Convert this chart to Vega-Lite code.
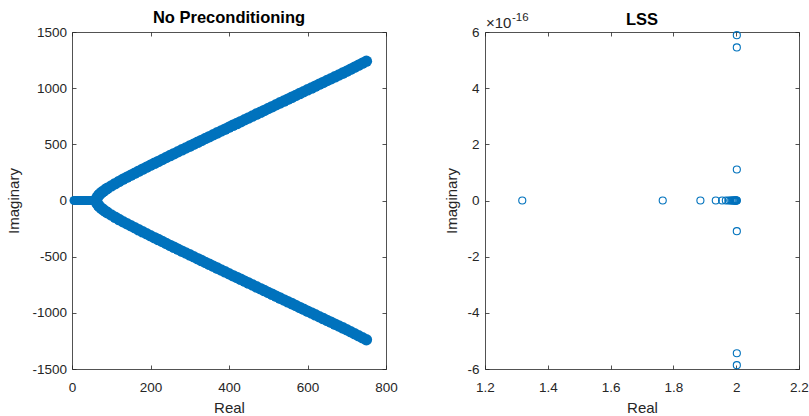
{
  "$schema": "https://vega.github.io/schema/vega-lite/v6.json",
  "autosize": {"type": "pad"},
  "padding": {"left": 6, "top": 10, "right": 5, "bottom": 1},
  "background": "white",
  "spacing": 99,
  "bounds": "flush",
  "config": {
    "view": {"stroke": null},
    "axis": {
      "domainColor": "#262626", "tickColor": "#262626", "labelColor": "#262626", "titleColor": "#262626",
      "labelFont": "Liberation Sans", "titleFont": "Liberation Sans", "labelFontSize": 13.5, "titleFontSize": 15,
      "titleFontWeight": "normal", "tickSize": -4, "grid": false, "domainWidth": 0.8, "tickWidth": 0.8,
      "labelFlush": false, "labelOverlap": false
    },
    "axisX": {"labelPadding": 15, "titlePadding": 7},
    "title": {"font": "Liberation Sans", "fontSize": 16.5, "fontWeight": "bold", "color": "#000000"}
  },
  "datasets": {
    "axisPts": [
      {"re": 5, "im": 0}, {"re": 9, "im": 0}, {"re": 13, "im": 0}, {"re": 17, "im": 0}, {"re": 21, "im": 0},
      {"re": 25, "im": 0}, {"re": 29, "im": 0}, {"re": 33, "im": 0}, {"re": 37, "im": 0}, {"re": 41, "im": 0},
      {"re": 45, "im": 0}, {"re": 49, "im": 0}, {"re": 53, "im": 0}, {"re": 57, "im": 0}, {"re": 61, "im": 0}
    ],
    "branch": [
      {"re": 62, "up": 0, "dn": 0}, {"re": 64, "up": 26, "dn": -26}, {"re": 67, "up": 42, "dn": -42},
      {"re": 70, "up": 54, "dn": -54}, {"re": 75, "up": 70, "dn": -70}, {"re": 80, "up": 83, "dn": -83},
      {"re": 85, "up": 96, "dn": -96}, {"re": 90, "up": 108, "dn": -108}, {"re": 100, "up": 129, "dn": -129},
      {"re": 110, "up": 150, "dn": -150}, {"re": 120, "up": 170, "dn": -170}, {"re": 130, "up": 189, "dn": -189},
      {"re": 140, "up": 207, "dn": -207}, {"re": 150, "up": 225, "dn": -225}, {"re": 160, "up": 243, "dn": -243},
      {"re": 170, "up": 261, "dn": -261}, {"re": 180, "up": 279, "dn": -279}, {"re": 190, "up": 296, "dn": -296},
      {"re": 200, "up": 314, "dn": -314}, {"re": 210, "up": 331, "dn": -331}, {"re": 220, "up": 348, "dn": -348},
      {"re": 230, "up": 365, "dn": -365}, {"re": 240, "up": 383, "dn": -383}, {"re": 250, "up": 400, "dn": -400},
      {"re": 260, "up": 417, "dn": -417}, {"re": 270, "up": 434, "dn": -434}, {"re": 280, "up": 451, "dn": -451},
      {"re": 290, "up": 467, "dn": -467}, {"re": 300, "up": 484, "dn": -484}, {"re": 310, "up": 501, "dn": -501},
      {"re": 320, "up": 518, "dn": -518}, {"re": 330, "up": 535, "dn": -535}, {"re": 340, "up": 552, "dn": -552},
      {"re": 350, "up": 568, "dn": -568}, {"re": 360, "up": 585, "dn": -585}, {"re": 370, "up": 602, "dn": -602},
      {"re": 380, "up": 619, "dn": -619}, {"re": 390, "up": 635, "dn": -635}, {"re": 400, "up": 652, "dn": -652},
      {"re": 410, "up": 669, "dn": -669}, {"re": 420, "up": 685, "dn": -685}, {"re": 430, "up": 702, "dn": -702},
      {"re": 440, "up": 719, "dn": -719}, {"re": 450, "up": 735, "dn": -735}, {"re": 460, "up": 752, "dn": -752},
      {"re": 470, "up": 769, "dn": -769}, {"re": 480, "up": 785, "dn": -785}, {"re": 490, "up": 802, "dn": -802},
      {"re": 500, "up": 819, "dn": -819}, {"re": 510, "up": 835, "dn": -835}, {"re": 520, "up": 852, "dn": -852},
      {"re": 530, "up": 869, "dn": -869}, {"re": 540, "up": 885, "dn": -885}, {"re": 550, "up": 902, "dn": -902},
      {"re": 560, "up": 918, "dn": -918}, {"re": 570, "up": 935, "dn": -935}, {"re": 580, "up": 952, "dn": -952},
      {"re": 590, "up": 968, "dn": -968}, {"re": 600, "up": 985, "dn": -985}, {"re": 610, "up": 1001, "dn": -1001},
      {"re": 620, "up": 1018, "dn": -1018}, {"re": 630, "up": 1035, "dn": -1035}, {"re": 640, "up": 1051, "dn": -1051},
      {"re": 650, "up": 1068, "dn": -1068}, {"re": 660, "up": 1084, "dn": -1084}, {"re": 670, "up": 1101, "dn": -1101},
      {"re": 680, "up": 1117, "dn": -1117}, {"re": 690, "up": 1134, "dn": -1134}, {"re": 700, "up": 1151, "dn": -1151},
      {"re": 710, "up": 1168, "dn": -1168}, {"re": 720, "up": 1186, "dn": -1186}, {"re": 730, "up": 1204, "dn": -1204},
      {"re": 740, "up": 1222, "dn": -1222}, {"re": 750, "up": 1240, "dn": -1240}
    ],
    "lss": [
      {"re": 1.3187, "im": 0}, {"re": 1.766, "im": 0}, {"re": 1.886, "im": 0}, {"re": 1.935, "im": 0},
      {"re": 1.955, "im": 0}, {"re": 1.967, "im": 0}, {"re": 1.975, "im": 0}, {"re": 1.981, "im": 0},
      {"re": 1.985, "im": 0}, {"re": 1.988, "im": 0}, {"re": 1.991, "im": 0}, {"re": 1.993, "im": 0},
      {"re": 1.995, "im": 0}, {"re": 1.997, "im": 0}, {"re": 1.998, "im": 0}, {"re": 1.999, "im": 0},
      {"re": 2.0, "im": 0}, {"re": 2.001, "im": 0}, {"re": 2.002, "im": 0},
      {"re": 2.002, "im": 5.886e-16}, {"re": 2.002, "im": 5.45e-16}, {"re": 2.002, "im": 1.104e-16},
      {"re": 2.002, "im": -1.093e-16}, {"re": 2.002, "im": -5.44e-16}, {"re": 2.002, "im": -5.865e-16}
    ]
  },
  "hconcat": [
    {
      "width": 314,
      "height": 337,
      "title": {"text": "No Preconditioning", "offset": -1.5},
      "resolve": {"axis": {"x": "independent", "y": "independent"}},
      "layer": [
        {
          "data": {"name": "axisPts"},
          "mark": {"type": "point", "shape": "circle", "filled": true, "color": "#0072BD", "opacity": 1, "size": 80},
          "encoding": {
            "x": {"field": "re", "type": "quantitative", "scale": {"domain": [0, 800], "nice": false, "zero": false}, "axis": null},
            "y": {"field": "im", "type": "quantitative", "scale": {"domain": [-1500, 1500], "nice": false, "zero": false}, "axis": null}
          }
        },
        {
          "data": {"name": "branch"},
          "mark": {"type": "point", "shape": "circle", "filled": true, "color": "#0072BD", "opacity": 1, "size": 133},
          "encoding": {
            "x": {"field": "re", "type": "quantitative", "scale": {"domain": [0, 800], "nice": false, "zero": false},
                  "axis": {"orient": "bottom", "title": "Real", "values": [0, 200, 400, 600, 800], "labelExpr": "'' + datum.value"}},
            "y": {"field": "up", "type": "quantitative", "scale": {"domain": [-1500, 1500], "nice": false, "zero": false},
                  "axis": {"orient": "left", "title": "Imaginary", "labelPadding": 9.5, "titlePadding": 10.5, "values": [-1500, -1000, -500, 0, 500, 1000, 1500], "labelExpr": "'' + datum.value"}}
          }
        },
        {
          "data": {"name": "branch"},
          "mark": {"type": "point", "shape": "circle", "filled": true, "color": "#0072BD", "opacity": 1, "size": 133},
          "encoding": {
            "x": {"field": "re", "type": "quantitative", "scale": {"domain": [0, 800], "nice": false, "zero": false},
                  "axis": {"orient": "top", "title": null, "labels": false, "values": [0, 200, 400, 600, 800]}},
            "y": {"field": "dn", "type": "quantitative", "scale": {"domain": [-1500, 1500], "nice": false, "zero": false},
                  "axis": {"orient": "right", "title": null, "labels": false, "values": [-1500, -1000, -500, 0, 500, 1000, 1500]}}
          }
        }
      ]
    },
    {
      "width": 314,
      "height": 337,
      "title": {"text": "LSS", "offset": -16.5},
      "resolve": {"axis": {"x": "independent", "y": "independent"}},
      "layer": [
        {
          "data": {"name": "lss"},
          "mark": {"type": "point", "shape": "circle", "filled": false, "color": "#0072BD", "opacity": 1, "size": 50, "strokeWidth": 1.1},
          "encoding": {
            "x": {"field": "re", "type": "quantitative", "scale": {"domain": [1.2, 2.2], "nice": false, "zero": false},
                  "axis": {"orient": "bottom", "title": "Real", "values": [1.2, 1.4, 1.6, 1.8, 2, 2.2], "format": ".1~f"}},
            "y": {"field": "im", "type": "quantitative", "scale": {"domain": [-6e-16, 6e-16], "nice": false, "zero": false},
                  "axis": {"orient": "left", "title": "Imaginary", "labelPadding": 10, "titlePadding": 7.5, "values": [-6e-16, -4e-16, -2e-16, 0, 2e-16, 4e-16, 6e-16], "labelExpr": "'' + round(datum.value * 1e16)"}}
          }
        },
        {
          "data": {"name": "lss"},
          "mark": {"type": "point", "shape": "circle", "filled": false, "opacity": 0, "size": 47},
          "encoding": {
            "x": {"field": "re", "type": "quantitative", "scale": {"domain": [1.2, 2.2], "nice": false, "zero": false},
                  "axis": {"orient": "top", "title": null, "labels": false, "values": [1.2, 1.4, 1.6, 1.8, 2, 2.2]}},
            "y": {"field": "im", "type": "quantitative", "scale": {"domain": [-6e-16, 6e-16], "nice": false, "zero": false},
                  "axis": {"orient": "right", "title": null, "labels": false, "values": [-6e-16, -4e-16, -2e-16, 0, 2e-16, 4e-16, 6e-16]}}
          }
        },
        {
          "data": {"values": [{"ex": 1.2, "ey": 6e-16, "t": "×10"}]},
          "mark": {"type": "text", "align": "left", "baseline": "alphabetic", "font": "Liberation Sans", "fontSize": 15, "color": "#262626", "dx": 1, "dy": -4},
          "encoding": {
            "x": {"field": "ex", "type": "quantitative", "axis": null},
            "y": {"field": "ey", "type": "quantitative", "axis": null},
            "text": {"field": "t"}
          }
        },
        {
          "data": {"values": [{"ex": 1.2, "ey": 6e-16, "t": "-16"}]},
          "mark": {"type": "text", "align": "left", "baseline": "alphabetic", "font": "Liberation Sans", "fontSize": 11.5, "color": "#262626", "dx": 27, "dy": -11},
          "encoding": {
            "x": {"field": "ex", "type": "quantitative", "axis": null},
            "y": {"field": "ey", "type": "quantitative", "axis": null},
            "text": {"field": "t"}
          }
        }
      ]
    }
  ]
}
